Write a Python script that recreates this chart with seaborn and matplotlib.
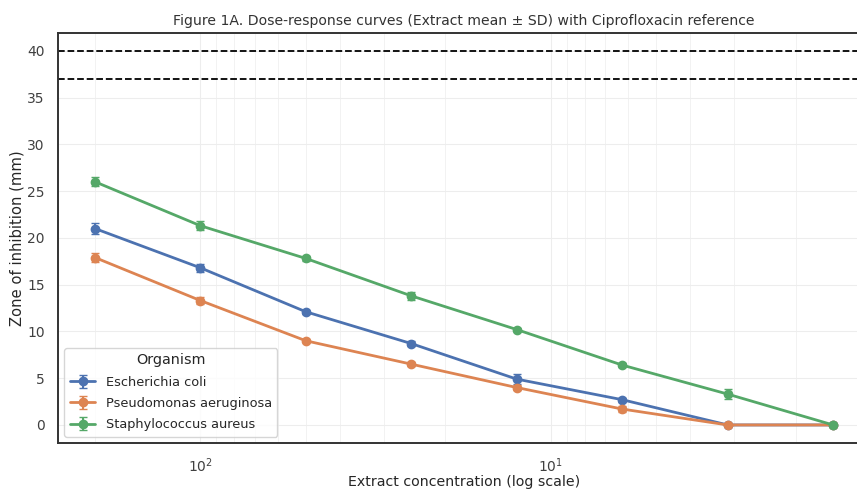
import numpy as np
import pandas as pd
import matplotlib
matplotlib.use("Agg")
import matplotlib.pyplot as plt
import seaborn as sns

# Concentrações (diluição seriada) e médias/DP
concentracao = [200, 100, 50, 25, 12.5, 6.25, 3.125, 1.5625]

organismos = ["Escherichia coli", "Pseudomonas aeruginosa", "Staphylococcus aureus"]

ecoli_media = [21.0, 16.8, 12.1, 8.7, 4.9, 2.7, 0.0, 0.0]
ecoli_dp = [0.6, 0.4, 0.2, 0.3, 0.5, 0.2, 0.0, 0.0]

pseudo_media = [17.9, 13.3, 9.0, 6.5, 4.0, 1.7, 0.0, 0.0]
pseudo_dp = [0.5, 0.4, 0.15, 0.2, 0.25, 0.3, 0.0, 0.0]

staph_media = [26.0, 21.3, 17.8, 13.8, 10.2, 6.4, 3.3, 0.0]
staph_dp = [0.5, 0.5, 0.25, 0.4, 0.2, 0.2, 0.5, 0.0]

# Halos de referência da ciprofloxacina
cipro_ref = [40, 37]

medias = [ecoli_media, pseudo_media, staph_media]
desvios = [ecoli_dp, pseudo_dp, staph_dp]

sns.set_theme(style="whitegrid")
plt.rcParams["axes.edgecolor"] = "0.2"
plt.rcParams["axes.linewidth"] = 1.4

cores = sns.color_palette("deep", 3)

fig = plt.figure(figsize=(8.57, 4.9), dpi=100)
# eixo um pouco mais largo que a figura (recorte à direita como no original)
ax = fig.add_axes([0.0677, 0.0959, 0.9475, 0.8367])

for nome, media, dp, cor in zip(organismos, medias, desvios, cores):
    ax.errorbar(concentracao, media, yerr=dp, label=nome, color=cor,
                marker="o", markersize=6, linewidth=2, capsize=3, elinewidth=1.5)

for ref in cipro_ref:
    ax.axhline(ref, color="black", linestyle="--", linewidth=1.3)

ax.set_xscale("log")
ax.invert_xaxis()
ax.set_ylim(-1.93, 41.9)
ax.set_yticks([0, 5, 10, 15, 20, 25, 30, 35, 40])

ax.grid(True, which="major", color="0.93", linewidth=0.8)
ax.grid(True, which="minor", axis="x", color="0.94", linewidth=0.6)

ax.set_title("Figure 1A. Dose-response curves (Extract mean ± SD) with Ciprofloxacin reference",
             fontsize=10.1, color="0.2")
ax.set_xlabel("Extract concentration (log scale)", fontsize=10.2, color="0.15", labelpad=0)
ax.set_ylabel("Zone of inhibition (mm)", fontsize=10.6, color="0.15", labelpad=2)
ax.tick_params(labelsize=10, colors="0.25")

ax.legend(title="Organism", loc="lower left", fontsize=9.3, title_fontsize=10.4,
          labelspacing=0.65)

fig.savefig("out.png", dpi=100)
